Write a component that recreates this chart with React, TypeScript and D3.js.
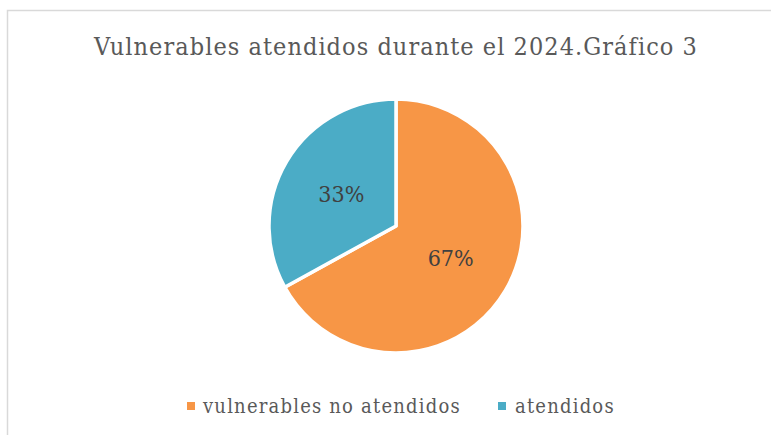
import React from "react";
import * as d3 from "d3";

const title = "Vulnerables atendidos durante el 2024.Gráfico 3";
const categories = ["vulnerables no atendidos", "atendidos"];
const values = [67, 33];
const colors = ["#F79646", "#4BACC6"];

const W = 771;
const H = 435;
const cx = 396;
const cy = 226;
const R = 127;
const FONT = "'DejaVu Serif', serif";

export default function App() {
  const pie = d3.pie<number>().sort(null).value((d) => d);
  const arcs = pie(values);
  const arc = d3.arc<d3.PieArcDatum<number>>().innerRadius(0).outerRadius(R);
  const total = d3.sum(values);

  const legendItems = [
    { x: 187, textX: 203 },
    { x: 498, textX: 515 },
  ];

  return (
    <div style={{ position: "absolute", left: 0, top: 0 }}>
      <svg width={W} height={H} style={{ display: "block", fontFamily: FONT, fontStretch: "condensed" }}>
        <rect x={0} y={0} width={W} height={H} fill="#fff" />
        <rect x={7.5} y={10.5} width={W + 20} height={H + 20} fill="#fff" stroke="#d9d9d9" strokeWidth={1.5} />
        <text x={396} y={55} textAnchor="middle" fontSize={25} letterSpacing={1.05} fill="#595959">
          {title}
        </text>
        <g transform={`translate(${cx},${cy})`}>
          {arcs.map((a, i) => (
            <path key={i} d={arc(a) || ""} fill={colors[i]} stroke="#fff" strokeWidth={3.5} strokeLinejoin="round" />
          ))}
          {arcs.map((a, i) => {
            const [x, y] = arc.centroid(a);
            return (
              <text key={i} x={x} y={y} textAnchor="middle" dominantBaseline="central" fontSize={23} fill="#404040">
                {`${Math.round((a.data / total) * 100)}%`}
              </text>
            );
          })}
        </g>
        {categories.map((c, i) => (
          <g key={c}>
            <rect x={legendItems[i].x} y={402} width={8} height={8} fill={colors[i]} />
            <text x={legendItems[i].textX} y={413} fontSize={20} letterSpacing={1.2} fill="#595959">
              {c}
            </text>
          </g>
        ))}
      </svg>
    </div>
  );
}
